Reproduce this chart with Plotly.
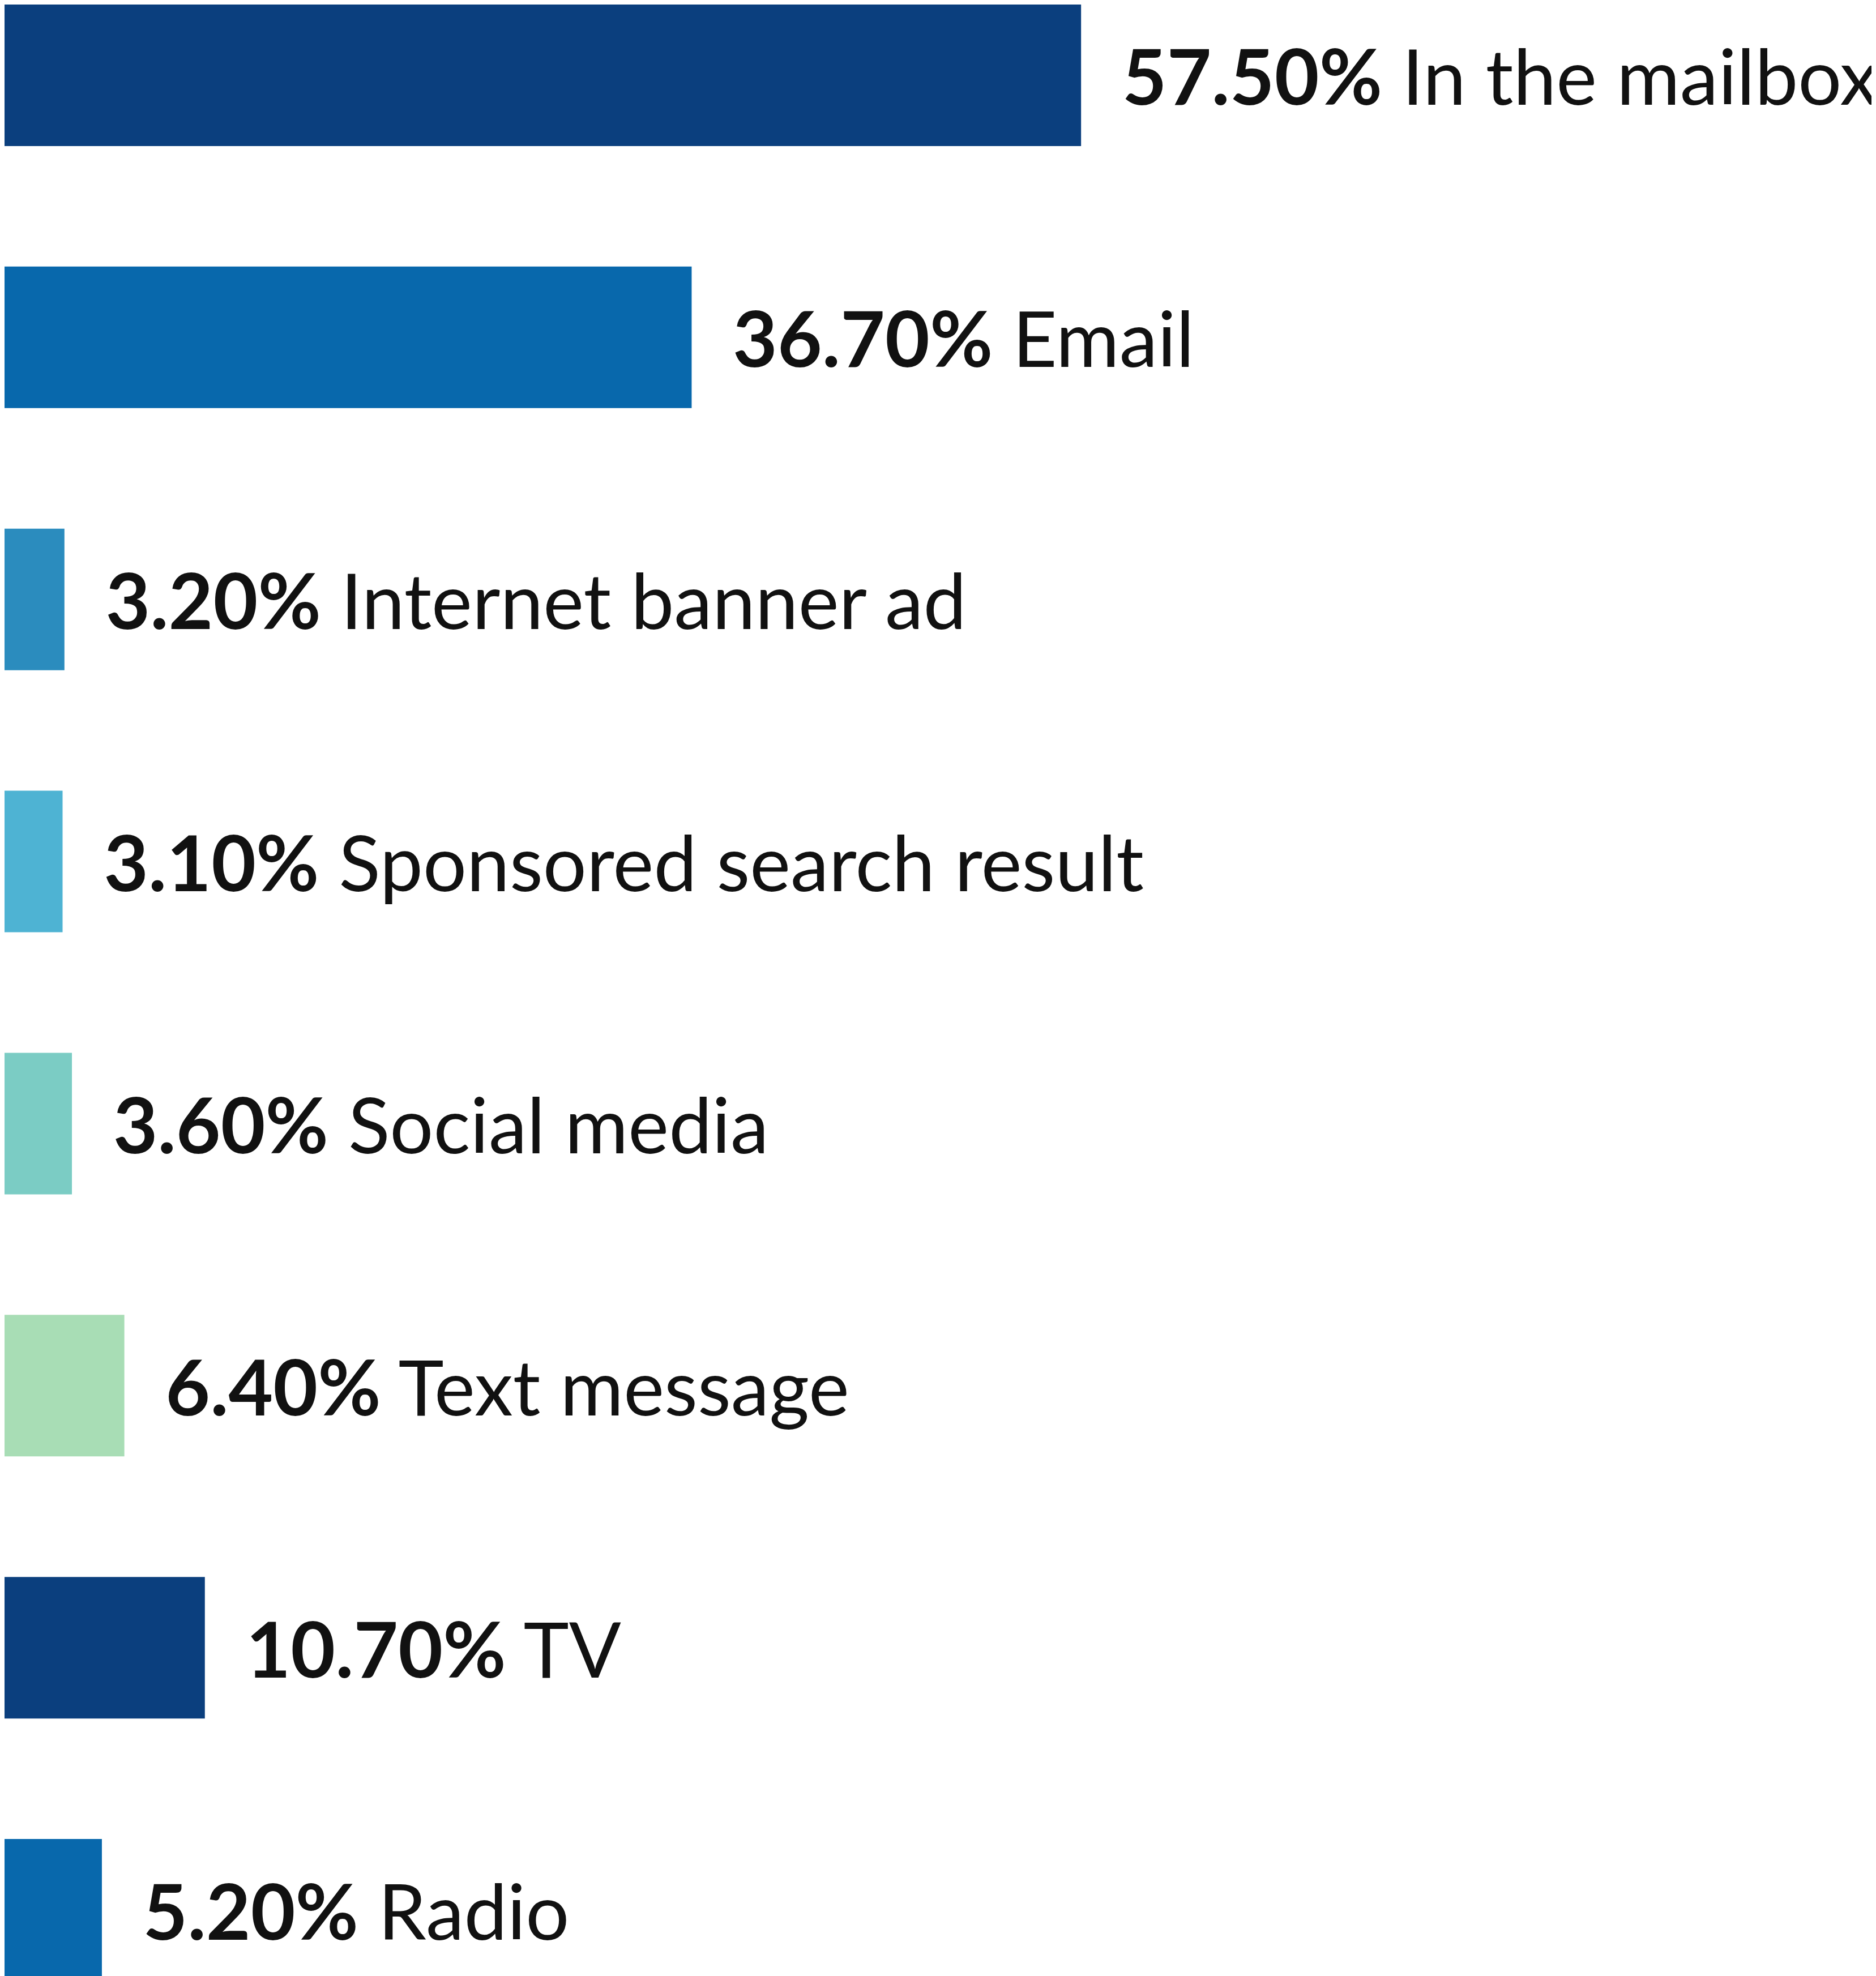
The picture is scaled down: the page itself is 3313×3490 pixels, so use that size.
import plotly.graph_objects as go

# Data
channels = ["In the mailbox", "Email", "Internet banner ad", "Sponsored search result",
            "Social media", "Text message", "TV", "Radio"]
shares = [57.5, 36.7, 3.2, 3.1, 3.6, 6.4, 10.7, 5.2]
colors = ["#0b3f7e", "#0868ac", "#2b8cbe", "#4eb3d3", "#7bccc4", "#a8ddb5", "#0b3f7e", "#0868ac"]

labels = [f"&nbsp;&nbsp;<b>{v:.2f}%</b> {c}" for v, c in zip(shares, channels)]

fig = go.Figure(go.Bar(
    x=shares, y=channels, orientation="h",
    marker=dict(color=colors, line=dict(width=0)),
    text=labels, textposition="outside", cliponaxis=False,
    textfont=dict(family="Lato", size=136, color="#111111"),
))

fig.update_layout(
    width=3313, height=3490,
    margin=dict(l=0, r=0, t=0, b=0, pad=0, autoexpand=False),
    plot_bgcolor="white", paper_bgcolor="white",
    bargap=0.46, showlegend=False,
)
fig.update_xaxes(range=[0, 100.2], visible=False)
fig.update_yaxes(range=[7.27, -0.27], visible=False)

fig.write_html("out.html")
